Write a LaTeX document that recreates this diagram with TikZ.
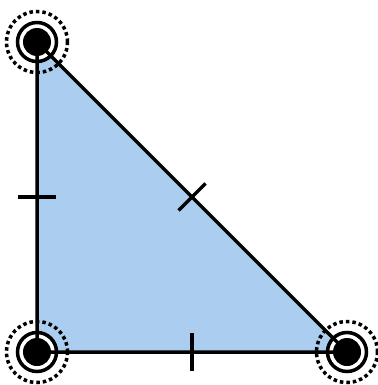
\documentclass[tikz,border=0pt]{standalone}
\usetikzlibrary{calc}
\definecolor{triblue}{HTML}{ABCDEF}
\begin{document}
\begin{tikzpicture}[x=1pt,y=-1pt,
  edge/.style={line width=3.5pt},
  tick/.style={line width=3.5pt},
  ring/.style={circle,draw=black,fill=white,line width=3.5pt,minimum size=39pt,inner sep=0pt},
  disk/.style={circle,fill=black,minimum size=28pt,inner sep=0pt},
  dotring/.style={circle,draw=black,line width=3.5pt,dash pattern=on 3.5pt off 3pt,minimum size=61pt,inner sep=0pt}]
\useasboundingbox (0,0) rectangle (377,385);
\coordinate (A) at (37,42);
\coordinate (B) at (37,352);
\coordinate (C) at (347,352);
\fill[triblue] (A) -- (B) -- (C) -- cycle;
\foreach \v in {A,B,C} {
  \node[ring] (r\v) at (\v) {};
}
\draw[edge] (A) -- (B) -- (C) -- cycle;
\foreach \v in {A,B,C} {
  \node[disk] (d\v) at (\v) {};
  \node[dotring] (o\v) at (\v) {};
}
\coordinate (mAB) at ($(A)!0.5!(B)$);
\coordinate (mBC) at ($(B)!0.5!(C)$);
\coordinate (mCA) at ($(C)!0.5!(A)$);
\draw[tick] ($(mAB)+(-19,0)$) -- ($(mAB)+(19,0)$);
\draw[tick] ($(mBC)+(0,-19)$) -- ($(mBC)+(0,19)$);
\draw[tick] ($(mCA)+(-13.5,13.5)$) -- ($(mCA)+(13.5,-13.5)$);
\end{tikzpicture}
\end{document}
